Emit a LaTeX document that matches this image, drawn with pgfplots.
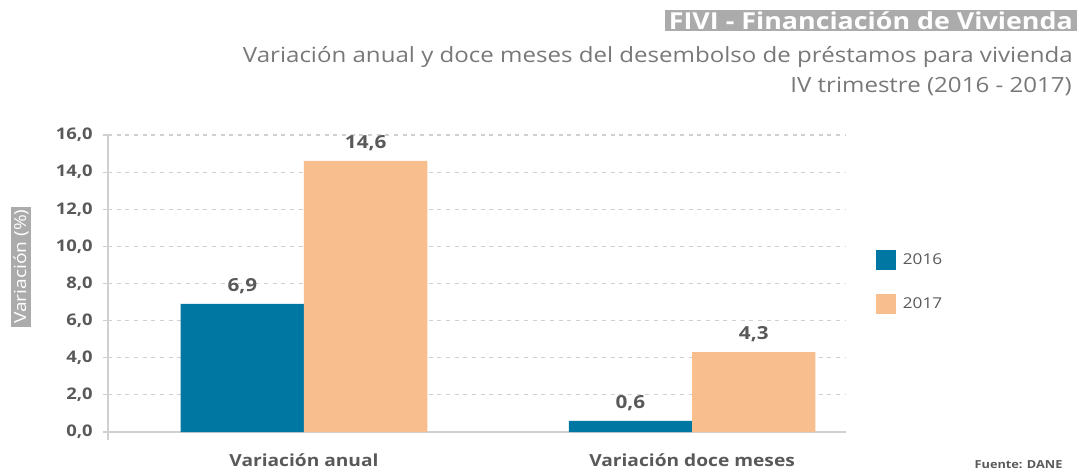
\documentclass[border=0pt]{standalone}
\usepackage{pgfplots}
\pgfplotsset{compat=1.18}
\usepackage{fontspec}
\setmainfont{Open Sans}[FakeStretch=1.15]
\definecolor{c2016}{HTML}{0077A3}
\definecolor{c2017}{HTML}{F8BE8E}
\definecolor{txt}{HTML}{595959}
\definecolor{subtxt}{HTML}{787878}
\definecolor{boxgray}{HTML}{ABABAB}
\definecolor{gridc}{HTML}{D0D0D0}
\pgfplotsset{ybar legend/.style={legend image code/.code={\fill[##1] (0pt,-7.5pt) rectangle (15pt,7.5pt); \path (18pt,0pt);}}}
\begin{document}
\begin{tikzpicture}
\useasboundingbox (0,0) rectangle (809.25pt,-354pt);
% titles
\node[anchor=north east, fill=boxgray, text=white, inner xsep=3pt, inner ysep=1pt, text depth=0pt,
      font=\fontsize{17.5}{19}\selectfont\bfseries] at (807.75pt,-7.5pt) {FIVI - Financiación de Vivienda};
\node[anchor=base east, text=subtxt, inner sep=0pt, font=\fontsize{15.7}{18}\selectfont]
  at (804.75pt,-46.5pt) {Variación anual y doce meses del desembolso de préstamos para vivienda};
\node[anchor=base east, text=subtxt, inner sep=0pt, font=\fontsize{15.7}{18}\selectfont]
  at (804pt,-69pt) {IV trimestre (2016 - 2017)};
% y label
\node[rotate=90, fill=boxgray, text=white, inner xsep=2pt, inner ysep=1.5pt,
      font=\fontsize{12.5}{14}\selectfont] at (15.75pt,-200pt) {Variación (\%)};
% source
\node[anchor=base east, text=txt, inner sep=0pt, font=\fontsize{8.3}{10}\selectfont\bfseries]
  at (797pt,-351pt) {Fuente: DANE};
\begin{axis}[
  at={(81pt,-324pt)}, anchor=south west,
  scale only axis, width=552.75pt, height=222.75pt,
  ybar=0pt, bar width=92.5pt,
  xmin=-0.505, xmax=1.394, ymin=0, ymax=16,
  xtick={0,1}, xticklabels={Variación anual, Variación doce meses},
  ytick={0,2,...,16},
  axis x line*=bottom, axis y line*=left,
  axis line style={gridc, line width=1pt},
  ymajorgrids, grid style={gridc, line width=0.8pt, dash pattern=on 3pt off 3.5pt},
  xtick style={draw=none},
  ytick style={gridc, line width=0.8pt},
  tick align=outside, major tick length=4pt,
  /pgf/number format/use comma, /pgf/number format/fixed,
  /pgf/number format/fixed zerofill, /pgf/number format/precision=1,
  /pgf/number format/assume math mode=true,
  yticklabel style={font=\fontsize{12}{14}\selectfont\bfseries, text=txt, xshift=-4pt},
  xticklabel style={font=\fontsize{12.5}{15}\selectfont\bfseries, text=txt, yshift=-9pt},
  nodes near coords,
  nodes near coords style={font=\fontsize{13.5}{15}\selectfont\bfseries, text=txt, yshift=4pt},
  clip=false,
  legend style={at={(1.042,0.613)}, anchor=north west, draw=none, fill=none,
    inner sep=0pt, row sep=18pt, font=\fontsize{11.2}{14}\selectfont, text=txt},
  legend cell align=left,
]
\addplot[fill=c2016, draw=none] coordinates {(0,6.9) (1,0.6)};
\addplot[fill=c2017, draw=none] coordinates {(0,14.6) (1,4.3)};
\legend{2016,2017}
\draw[gridc, line width=1pt] ([yshift=-6pt]axis cs:-0.505,0) -- (axis cs:-0.505,0);
\end{axis}
\end{tikzpicture}
\end{document}
